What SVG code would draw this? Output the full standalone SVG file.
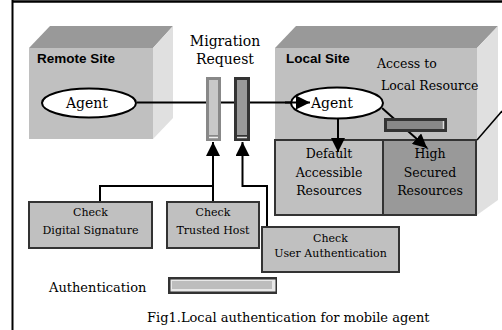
<svg xmlns="http://www.w3.org/2000/svg" width="502" height="330" viewBox="0 0 502 330">
<defs>
<marker id="ah" viewBox="0 0 10 10" refX="10" refY="5" markerWidth="14" markerHeight="14" markerUnits="userSpaceOnUse" orient="auto">
<path d="M0,0 L10,5 L0,10 z" fill="#000"/>
</marker>
</defs>
<style>
.front{fill:#c0c0c0}
.top{fill:#999}
.side{fill:#e0e0e0}
.site{font-family:"Liberation Sans",Arial,sans-serif;font-weight:bold;font-size:13.5px;fill:#000}
.t{font-family:"DejaVu Serif",serif;fill:#000}
.box{fill:#c0c0c0;stroke:#333;stroke-width:2}
.conn{fill:none;stroke:#000;stroke-width:2}
.ell{fill:#fff;stroke:#000;stroke-width:2}
</style>
<rect width="502" height="330" fill="#fff"/>
<g id="frame">
<line x1="12.5" y1="0" x2="12.5" y2="330" stroke="#000" stroke-width="2"/>
<line x1="12" y1="1.5" x2="502" y2="1.5" stroke="#000" stroke-width="2.5"/>
</g>
<g id="remote-site">
<polygon class="top" points="29,48 50,26 173,26 153,48"/>
<polygon class="side" points="153,48 173,26 173,118 153,139"/>
<rect class="front" x="29" y="48" width="124" height="91"/>
<text class="site" x="37" y="63">Remote Site</text>
</g>
<g id="local-site">
<polygon class="top" points="275,48 296,26 498,26 477,48"/>
<polygon class="side" points="477,48 498,26 498,200 477,215"/>
<rect class="front" x="275" y="48" width="202" height="167"/>
<text class="site" x="286" y="63">Local Site</text>
<line x1="477" y1="140" x2="502" y2="111" stroke="#000" stroke-width="1.5"/>
</g>
<g id="default-resources">
<rect class="box" x="275" y="140" width="108" height="75"/>
<text class="t" font-size="12.5" text-anchor="middle" x="329" y="158">Default</text>
<text class="t" font-size="12.5" text-anchor="middle" x="329" y="177">Accessible</text>
<text class="t" font-size="12.5" text-anchor="middle" x="329" y="195">Resources</text>
</g>
<g id="high-secured-resources">
<rect class="box" x="383" y="140" width="93" height="75" style="fill:#999"/>
<text class="t" font-size="12.5" text-anchor="middle" x="430" y="158">High</text>
<text class="t" font-size="12.5" text-anchor="middle" x="430" y="177">Secured</text>
<text class="t" font-size="12.5" text-anchor="middle" x="430" y="195">Resources</text>
</g>
<g id="labels">
<text class="t" font-size="14" text-anchor="middle" x="225" y="46">Migration</text>
<text class="t" font-size="14" text-anchor="middle" x="225" y="64">Request</text>
<text class="t" font-size="12.5" x="377" y="68">Access to</text>
<text class="t" font-size="12.5" x="381" y="90">Local Resource</text>
<text class="t" font-size="13" x="49" y="292">Authentication</text>
<text class="t" font-size="13" x="147" y="322">Fig1.Local authentication for mobile agent</text>
</g>
<g id="connectors">
<line class="conn" x1="137" y1="102.5" x2="310" y2="102.5" marker-end="url(#ah)"/>
<path class="conn" d="M100,202 V186 H213"/>
<path class="conn" d="M213,202 V142" marker-end="url(#ah)"/>
<path class="conn" d="M267,227 V186 H242.5 V142" marker-end="url(#ah)"/>
<line class="conn" x1="338" y1="118" x2="338" y2="152" marker-end="url(#ah)"/>
<line class="conn" x1="382" y1="108" x2="427" y2="148" marker-end="url(#ah)"/>
</g>
<g id="remote-agent">
<ellipse class="ell" cx="89" cy="103" rx="47" ry="14.5"/>
<text class="t" font-size="14" text-anchor="middle" x="87" y="108">Agent</text>
</g>
<g id="local-agent">
<ellipse class="ell" cx="337" cy="103" rx="46" ry="15.5"/>
<text class="t" font-size="14" text-anchor="middle" x="332" y="108">Agent</text>
<line class="conn" x1="285" y1="102.5" x2="310" y2="102.5" marker-end="url(#ah)"/>
</g>
<g id="migration-bar-light">
<rect x="206" y="77" width="15" height="64" fill="#888"/>
<rect x="209" y="80" width="9" height="55" fill="#c8c8c8"/>
<line x1="209" y1="137.5" x2="218" y2="137.5" stroke="#eee" stroke-width="1.5"/>
</g>
<g id="migration-bar-dark">
<rect x="234" y="77" width="16" height="64" fill="#333"/>
<rect x="237" y="80" width="10" height="55" fill="#999"/>
<line x1="237" y1="137.5" x2="247" y2="137.5" stroke="#ddd" stroke-width="1.5"/>
</g>
<g id="access-bar">
<rect x="384" y="118" width="63" height="14" fill="#333"/>
<rect x="387" y="121" width="56" height="8" fill="#888"/>
<line x1="443.5" y1="121" x2="443.5" y2="129" stroke="#ddd" stroke-width="1.5"/>
</g>
<g id="check-digital-signature">
<rect class="box" x="29" y="202" width="123" height="46"/>
<text class="t" font-size="11" text-anchor="middle" x="90.5" y="216">Check</text>
<text class="t" font-size="11" text-anchor="middle" x="90.5" y="234">Digital Signature</text>
</g>
<g id="check-trusted-host">
<rect class="box" x="167" y="202" width="92" height="46"/>
<text class="t" font-size="11" text-anchor="middle" x="213" y="216">Check</text>
<text class="t" font-size="11" text-anchor="middle" x="213" y="234">Trusted Host</text>
</g>
<g id="check-user-authentication">
<rect class="box" x="262" y="227" width="137" height="45"/>
<text class="t" font-size="11" text-anchor="middle" x="330.5" y="242">Check</text>
<text class="t" font-size="11" text-anchor="middle" x="330.5" y="257">User Authentication</text>
</g>
<g id="authentication-bar">
<rect x="168" y="277" width="109" height="17" fill="#333"/>
<rect x="170.5" y="279.5" width="105" height="12" fill="#e8e8e8"/>
<rect x="172" y="281" width="100" height="8" fill="#bdbdbd"/>
</g>
</svg>
